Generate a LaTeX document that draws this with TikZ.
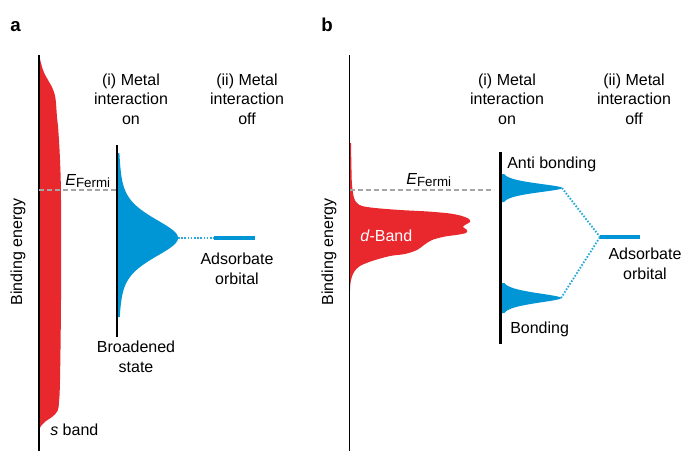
\documentclass[tikz,border=0pt]{standalone}
\usepackage{fontspec}
\setmainfont{Liberation Sans}
\definecolor{sred}{RGB}{232,40,45}
\definecolor{sblue}{RGB}{0,150,214}
\definecolor{dotblue}{RGB}{40,170,220}
\definecolor{fgray}{RGB}{165,165,165}
\newcommand\FermiSub{\raisebox{-0.35ex}{\fontsize{10}{10}\selectfont Fermi}}
\begin{document}
\begin{tikzpicture}[x=0.75pt,y=-0.75pt,
  lbl/.style={font=\fontsize{12}{14.6}\selectfont, inner sep=0pt, align=center},
  panel/.style={font=\fontsize{14}{16}\selectfont\bfseries, inner sep=0pt, anchor=base west},
  axisline/.style={line width=0.9pt},
  thickaxis/.style={line width=1.9pt},
  fermi/.style={fgray, line width=1.2pt, dash pattern=on 3.75pt off 2.25pt},
  dots/.style={dotblue, line width=1.4pt, dash pattern=on 1.2pt off 1.2pt},
  orbital/.style={sblue, line width=3pt}]
\useasboundingbox (0,0) rectangle (690,458);

% ---------- panel a ----------
% s band
\fill[sred] (38,55) -- plot[smooth, tension=0.6] coordinates {(39,55) (43,70) (48,80) (52,87) (54,92) (55.7,100) (57,117) (58.3,130) (60,160) (61,200) (61,300) (60,380) (59,402) (57.5,411) (52,417) (46,421) (41,426) (39,430)} -- (38,430) -- cycle;
% broadened state
\fill[sblue] (117,153) -- plot[domain=-85:79, samples=120, smooth] ({117+61*(0.5/(1+(\x/24.8)^2)+0.5*exp(-(\x*\x)/768))},{238+\x}) -- (117,317) -- cycle;

\coordinate (axa-t) at (39,55);
\coordinate (axa-b) at (39,451);
\coordinate (sta-t) at (117,145);
\coordinate (sta-b) at (117,337);
\coordinate (fa-l) at (39,190);
\coordinate (fa-r) at (116,190);
\coordinate (pa) at (178,238);
\coordinate (oa-l) at (214,238);
\coordinate (oa-r) at (255,238);

\draw[axisline] (axa-t) -- (axa-b);
\draw[thickaxis] (sta-t) -- (sta-b);
\draw[fermi] (fa-l) -- (fa-r);
\draw[dots] (pa) -- (oa-l);
\draw[orbital] (oa-l) -- (oa-r);

\node[panel] (la) at (10,31) {a};
\node[lbl, rotate=90] (bea) at (18,252) {Binding energy};
\node[lbl] (hai) at (131,99) {(i) Metal\\interaction\\on};
\node[lbl] (haii) at (247,99) {(ii) Metal\\interaction\\off};
\node[lbl, anchor=base west] (efa) at (65,185) {\textit{E}\FermiSub};
\node[lbl] (adsa) at (237,269) {Adsorbate\\orbital};
\node[lbl] (broad) at (136,357) {Broadened\\state};
\node[lbl, anchor=base west] (sband) at (50,435) {\textit{s} band};

% ---------- panel b ----------
% d band
\fill[sred] (349,143) -- plot[smooth, tension=0.5] coordinates {(351,143) (351.5,170) (352,185) (354,198) (357,203) (362,206) (375,208) (400,210) (428,211.5) (450,213.5) (462,216) (469,219) (470,222) (465,225) (463,227) (467,230) (466,233) (456,235) (445,236.5) (432,240) (424,245) (417,250) (405,254) (390,256) (372,261) (360,266) (354,272) (351,280) (350,290) (349.5,318)} -- (349,318) -- cycle;
% antibonding and bonding
\fill[sblue] (500,174) -- plot[domain=-14:14, samples=80, smooth] ({500+62*(0.5/(1+(\x/5)^2)+0.5*exp(-(\x*\x)/50))},{188+\x}) -- (500,202) -- cycle;
\fill[sblue] (500,283) -- plot[domain=-15:15, samples=80, smooth] ({500+61*(0.5/(1+(\x/5.5)^2)+0.5*exp(-(\x*\x)/60))},{298+\x}) -- (500,313) -- cycle;

\coordinate (axb-t) at (349.5,55);
\coordinate (axb-b) at (349.5,451);
\coordinate (stb-t) at (500.5,152);
\coordinate (stb-b) at (500.5,344);
\coordinate (fb-l) at (350,190);
\coordinate (fb-r) at (494,190);
\coordinate (ab) at (562,188);
\coordinate (bo) at (561,298);
\coordinate (ob-l) at (600,237);
\coordinate (ob-r) at (640,237);

\draw[axisline] (axb-t) -- (axb-b);
\draw[thickaxis] (stb-t) -- (stb-b);
\draw[fermi] (fb-l) -- (fb-r);
\draw[dots] (ab) -- (ob-l);
\draw[dots] (bo) -- (ob-l);
\draw[orbital] (ob-l) -- (ob-r);

\node[panel] (lb) at (321,31) {b};
\node[lbl, rotate=90] (beb) at (329,252) {Binding energy};
\node[lbl] (hbi) at (507,99) {(i) Metal\\interaction\\on};
\node[lbl] (hbii) at (634,99) {(ii) Metal\\interaction\\off};
\node[lbl, anchor=base west] (efb) at (406,184) {\textit{E}\FermiSub};
\node[lbl, anchor=base west, text=white] (dband) at (360,241) {\textit{d}-Band};
\node[lbl, anchor=base west] (anti) at (507,168) {Anti bonding};
\node[lbl, anchor=base west] (bond) at (510,333) {Bonding};
\node[lbl] (adsb) at (645,264) {Adsorbate\\orbital};
\end{tikzpicture}
\end{document}
